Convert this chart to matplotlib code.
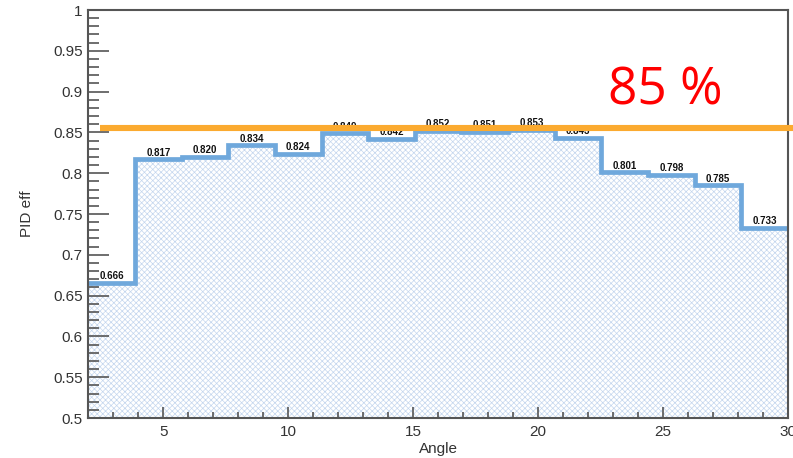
import matplotlib
matplotlib.use("Agg")
import matplotlib.pyplot as plt
import numpy as np

plt.rcParams["font.family"] = ["Liberation Sans", "DejaVu Sans"]
plt.rcParams["hatch.linewidth"] = 0.5

# Binned PID efficiency vs. angle (15 equal bins over 2..30)
ANGLE_MIN, ANGLE_MAX, N_BINS = 2.0, 30.0, 15
pid_eff = [0.666, 0.817, 0.820, 0.834, 0.824, 0.849, 0.842, 0.852,
           0.851, 0.853, 0.843, 0.801, 0.798, 0.785, 0.733]
threshold = 0.855
threshold_text = "85 %"

edges = np.linspace(ANGLE_MIN, ANGLE_MAX, N_BINS + 1)
centers = 0.5 * (edges[:-1] + edges[1:])

LINE_BLUE = "#6FA8DC"
HATCH_BLUE = "#C4D6EE"
ORANGE = "#FBAA2F"
AXIS_GREY = "#555555"

fig = plt.figure(figsize=(7.93, 4.58), dpi=100)
ax = fig.add_axes([88.3 / 793, 1 - 418 / 458, (788 - 88.3) / 793, 408 / 458])

# hatched fill under the histogram
ax.stairs(pid_eff, edges, baseline=0.5, fill=True, facecolor="white",
          edgecolor=HATCH_BLUE, hatch="xxxxxx", linewidth=0, zorder=1)
# outline
ax.stairs(pid_eff, edges, baseline=None, color=LINE_BLUE, linewidth=3.4,
          zorder=2)

# bin contents printed above each bin
for xc, v in zip(centers, pid_eff):
    ax.text(xc, v + 0.002, f"{v:.3f}", ha="center", va="bottom",
            fontsize=7, fontweight="bold", color="#111111", zorder=3)

# target efficiency line, runs past the frame on the right
ax.plot([2.47, 32.5], [threshold, threshold], color=ORANGE, linewidth=4.4,
        solid_capstyle="butt", clip_on=False, zorder=4)
ax.text(665 / 793, 1 - 91 / 458, threshold_text, transform=fig.transFigure,
        ha="center", va="center", fontsize=37, color="#FF0000",
        family=["Open Sans", "DejaVu Sans"])

ax.set_xlim(ANGLE_MIN, ANGLE_MAX)
ax.set_ylim(0.5, 1.0)
ax.set_xticks([5, 10, 15, 20, 25, 30])
ax.set_xticks(np.arange(3, 30, 1), minor=True)
ax.set_yticks(np.arange(0.5, 1.001, 0.05))
ax.set_yticks(np.arange(0.5, 1.001, 0.01), minor=True)
ax.set_yticklabels([f"{t:g}" for t in np.round(np.arange(0.5, 1.001, 0.05), 2)])

ax.tick_params(axis="both", which="both", direction="in", colors=AXIS_GREY,
               labelcolor="#333333", labelsize=11, width=1.2)
ax.tick_params(axis="y", which="major", length=15, pad=4)
ax.tick_params(axis="y", which="minor", length=8)
ax.tick_params(axis="x", which="major", length=8, pad=5)
ax.tick_params(axis="x", which="minor", length=4)

for side in ["left", "bottom", "top", "right"]:
    ax.spines[side].set_color(AXIS_GREY)
    ax.spines[side].set_linewidth(1.5)

ax.set_xlabel("Angle", fontsize=11, color="#333333", labelpad=2)
ax.set_ylabel("PID eff", fontsize=11, color="#333333", labelpad=14)

fig.savefig("out.png", dpi=100)
